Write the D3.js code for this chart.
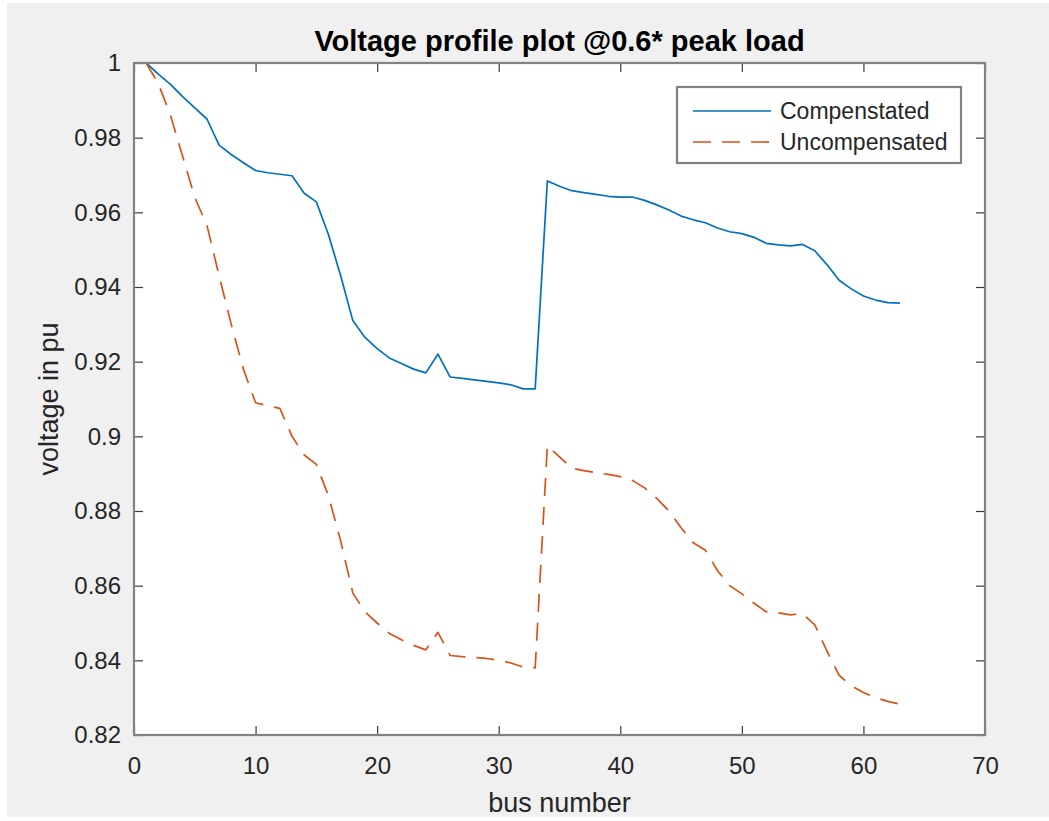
<!DOCTYPE html>
<html>
<head>
<meta charset="utf-8">
<script src="https://cdn.jsdelivr.net/npm/d3@7"></script>
<style>
  html, body { margin: 0; padding: 0; background: #ffffff; }
  svg { display: block; }
  text { font-family: "Liberation Sans", Arial, Helvetica, sans-serif; }
</style>
</head>
<body>
<svg id="chart" width="1049" height="821"></svg>
<script>
// ---- data ----
const busNumbers = d3.range(1, 64);
const compensated = [
  1.0, 0.997, 0.9943, 0.991, 0.988, 0.985, 0.978, 0.9755, 0.9733, 0.9712,
  0.9706, 0.9702, 0.9698, 0.9651, 0.9628, 0.954, 0.943, 0.931, 0.9265, 0.9235,
  0.921, 0.9195, 0.918, 0.917, 0.922, 0.9159, 0.9155, 0.9151, 0.9147, 0.9143,
  0.9138, 0.9127, 0.9127, 0.9684, 0.967, 0.9658, 0.9653, 0.9648, 0.9643, 0.9641,
  0.9641, 0.9632, 0.962, 0.9606, 0.959, 0.958, 0.9572, 0.9558, 0.9548, 0.9543,
  0.9533, 0.9517, 0.9513, 0.951, 0.9514, 0.9497, 0.946, 0.9418, 0.9395, 0.9376,
  0.9365, 0.9358, 0.9357
];
const uncompensated = [
  1.0, 0.9945, 0.986, 0.975, 0.964, 0.9565, 0.943, 0.930, 0.918, 0.909,
  0.9082, 0.9075, 0.900, 0.895, 0.8925, 0.884, 0.872, 0.858, 0.853, 0.850,
  0.8472, 0.8455, 0.844, 0.8428, 0.8475, 0.8413, 0.841, 0.8408, 0.8405, 0.840,
  0.8393, 0.8382, 0.838, 0.8975, 0.8945, 0.8915, 0.8908, 0.8903, 0.8898, 0.8892,
  0.8882, 0.8862, 0.8834, 0.880, 0.8755, 0.8715, 0.8695, 0.864, 0.860, 0.8578,
  0.8553, 0.853, 0.8527, 0.8522, 0.8525, 0.8495, 0.8425, 0.836, 0.8332, 0.8314,
  0.830, 0.829, 0.8283
];
const seriesNames = ["Compenstated", "Uncompensated"];
const xTickValues = [0, 10, 20, 30, 40, 50, 60, 70];
const yTickValues = [0.82, 0.84, 0.86, 0.88, 0.9, 0.92, 0.94, 0.96, 0.98, 1];
const yTickLabels = ["0.82", "0.84", "0.86", "0.88", "0.9", "0.92", "0.94", "0.96", "0.98", "1"];
const titleText = "Voltage profile plot @0.6* peak load";
const xLabelText = "bus number";
const yLabelText = "voltage in pu";

// ---- layout ----
const svg = d3.select("#chart");
const W = 1049, H = 821;
const L = 134, R = 985, T = 63, B = 735;
const blue = "#0072BD", orange = "#D95319";
const axisGrey = "#828282", textCol = "#262626";

svg.append("rect").attr("x", 7).attr("y", 3).attr("width", W - 7).attr("height", H - 7).attr("fill", "#f0f0f0");
svg.append("rect").attr("x", L).attr("y", T).attr("width", R - L).attr("height", B - T).attr("fill", "#ffffff");

const x = d3.scaleLinear().domain([0, 70]).range([L, R]);
const y = d3.scaleLinear().domain([0.82, 1]).range([B, T]);

const tickLen = 9;
const yFmt = d => yTickLabels[yTickValues.indexOf(d)];

// bottom axis
const gB = svg.append("g").attr("transform", `translate(0,${B})`)
  .call(d3.axisBottom(x).tickValues(xTickValues).tickSizeInner(-tickLen).tickSizeOuter(0).tickPadding(22).tickFormat(d3.format("d")));
// top axis
const gT = svg.append("g").attr("transform", `translate(0,${T})`)
  .call(d3.axisTop(x).tickValues(xTickValues).tickSizeInner(-tickLen).tickSizeOuter(0).tickFormat(""));
// left axis
const gL = svg.append("g").attr("transform", `translate(${L},0)`)
  .call(d3.axisLeft(y).tickValues(yTickValues).tickSizeInner(-tickLen).tickSizeOuter(0).tickPadding(13).tickFormat(yFmt));
// right axis
const gR = svg.append("g").attr("transform", `translate(${R},0)`)
  .call(d3.axisRight(y).tickValues(yTickValues).tickSizeInner(-tickLen).tickSizeOuter(0).tickFormat(""));

[gB, gT, gL, gR].forEach(g => {
  g.select(".domain").remove();
  g.selectAll(".tick line").attr("stroke", "#3a3a3a").attr("stroke-width", 1.2);
  g.selectAll(".tick text").attr("fill", textCol).attr("font-size", 24)
    .attr("font-family", "'Liberation Sans', Arial, sans-serif");
});

// lines
const lineGen = vals => d3.line().x((d, i) => x(busNumbers[i])).y(d => y(d))(vals);
const plot = svg.append("g");
plot.append("path").attr("d", lineGen(compensated)).attr("fill", "none")
  .attr("stroke", blue).attr("stroke-width", 1.7).attr("stroke-linejoin", "round");
plot.append("path").attr("d", lineGen(uncompensated)).attr("fill", "none")
  .attr("stroke", orange).attr("stroke-width", 1.7).attr("stroke-dasharray", "18,11").attr("stroke-linejoin", "round");

// axes box
svg.append("rect").attr("x", L).attr("y", T).attr("width", R - L).attr("height", B - T)
  .attr("fill", "none").attr("stroke", axisGrey).attr("stroke-width", 2.2);

// title & labels
svg.append("text").attr("x", (L + R) / 2).attr("y", 51).attr("text-anchor", "middle")
  .attr("font-size", 29).attr("font-weight", "bold").attr("fill", "#000").text(titleText);
svg.append("text").attr("x", (L + R) / 2).attr("y", 812).attr("text-anchor", "middle")
  .attr("font-size", 27).attr("fill", textCol).text(xLabelText);
svg.append("text").attr("transform", `translate(58,${(T + B) / 2}) rotate(-90)`).attr("text-anchor", "middle")
  .attr("font-size", 27).attr("fill", textCol).text(yLabelText);

// legend
const lg = svg.append("g");
lg.append("rect").attr("x", 677).attr("y", 87).attr("width", 284).attr("height", 76)
  .attr("fill", "#fff").attr("stroke", axisGrey).attr("stroke-width", 2.2);
const legendRows = [
  { name: seriesNames[0], color: blue, dash: null, cy: 111 },
  { name: seriesNames[1], color: orange, dash: "18,11", cy: 142 }
];
legendRows.forEach(r => {
  lg.append("line").attr("x1", 693).attr("x2", 771).attr("y1", r.cy).attr("y2", r.cy)
    .attr("stroke", r.color).attr("stroke-width", 1.7).attr("stroke-dasharray", r.dash);
  lg.append("text").attr("x", 780).attr("y", r.cy).attr("dy", "0.35em")
    .attr("font-size", 23).attr("fill", textCol).text(r.name);
});
</script>
</body>
</html>
